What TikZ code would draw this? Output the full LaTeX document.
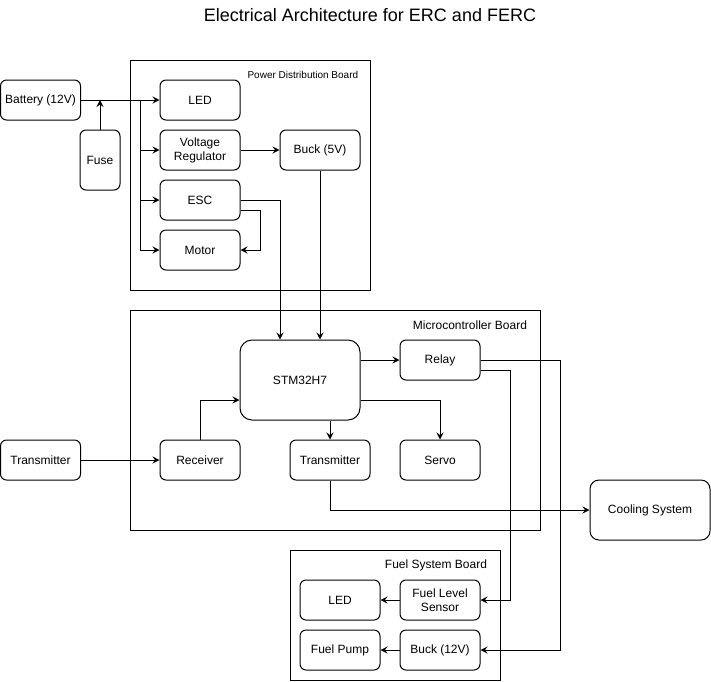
\documentclass[tikz,border=0pt]{standalone}
\usepackage{fontspec}
\setmainfont{Liberation Sans}
\usetikzlibrary{arrows.meta, positioning, calc}

\begin{document}
\begin{tikzpicture}[x=1pt, y=-1pt, line width=1pt,
    blk/.style={draw, rounded corners=6pt, minimum width=80pt, minimum height=40pt,
      inner sep=0pt, align=center, font=\fontsize{12}{14}\selectfont},
    conn/.style={-{Stealth[length=7pt, width=7pt, inset=2.5pt]}},
    boardlbl/.style={font=\fontsize{12}{14}\selectfont}]
  \useasboundingbox (0,0) rectangle (711,681);
  \node[font=\fontsize{18}{21}\selectfont] (title) at (370,15) {Electrical Architecture for ERC and FERC};

  % power distribution board
  \draw (130,60) rectangle (370,290);
  \node[font=\fontsize{10}{12}\selectfont, anchor=east] (pdblbl) at (362,75) {Power Distribution Board};
  \node[blk] (bat) at (40.5,100) {Battery (12V)};
  \node[blk, minimum width=40pt, minimum height=60pt] (fuse) at (100,160) {Fuse};
  \node[blk] (led) at (200,100) {LED};
  \node[blk] (vreg) at (200,150) {Voltage\\Regulator};
  \node[blk] (buck5) at (320,150) {Buck (5V)};
  \node[blk] (esc) at (200,200) {ESC};
  \node[blk] (motor) at (200,250) {Motor};

  \coordinate (split) at (140,100);
  \draw[conn] (bat) -- (led);
  \draw[conn] (fuse) -- (fuse.north |- bat.east);
  \draw[conn] (split) |- (vreg);
  \draw[conn] (split) |- (esc);
  \draw[conn] (split) |- (motor);
  \draw[conn] (vreg) -- (buck5);
  \draw[conn] ([yshift=-10pt]esc.east) -- ++(20,0) |- (motor.east);

  % microcontroller board
  \draw (130,310) rectangle (540,530);
  \node[boardlbl] (mcblbl) at (470,325) {Microcontroller Board};
  \node[blk, minimum width=120pt, minimum height=80pt, rounded corners=12pt] (stm) at (300,380) {STM32H7};
  \node[blk] (relay) at (440,360) {Relay};
  \node[blk] (rx) at (200,460) {Receiver};
  \node[blk] (tx) at (330,460) {Transmitter};
  \node[blk] (servo) at (440,460) {Servo};
  \node[blk] (txo) at (40.5,460) {Transmitter};
  \node[blk, minimum width=120pt, minimum height=60pt, rounded corners=9pt] (cool) at (650,510) {Cooling System};

  \draw[conn] (esc.east) -| ([xshift=-20pt]stm.north);
  \draw[conn] (buck5) -- (buck5 |- stm.north);
  \draw[conn] (txo) -- (rx);
  \draw[conn] (rx) |- ([yshift=-20pt]stm.west);
  \draw[conn] (stm.east |- relay.west) -- (relay);
  \draw[conn] ([yshift=-20pt]stm.east) -| (servo);
  \draw[conn] (tx.north |- stm.south) -- (tx);
  \draw[conn] (tx) |- (cool);

  % fuel system board
  \draw (290,550) rectangle (500,680);
  \node[boardlbl] (fsblbl) at (436,565) {Fuel System Board};
  \node[blk] (led2) at (340,600) {LED};
  \node[blk] (fls) at (440,600) {Fuel Level\\Sensor};
  \node[blk] (pump) at (340,650) {Fuel Pump};
  \node[blk] (buck12) at (440,650) {Buck (12V)};

  \draw[conn] (relay.east) -- ++(80,0) |- (buck12);
  \draw[conn] ([yshift=-10pt]relay.east) -- ++(30,0) |- (fls);
  \draw[conn] (fls) -- (led2);
  \draw[conn] (buck12) -- (pump);
\end{tikzpicture}
\end{document}
